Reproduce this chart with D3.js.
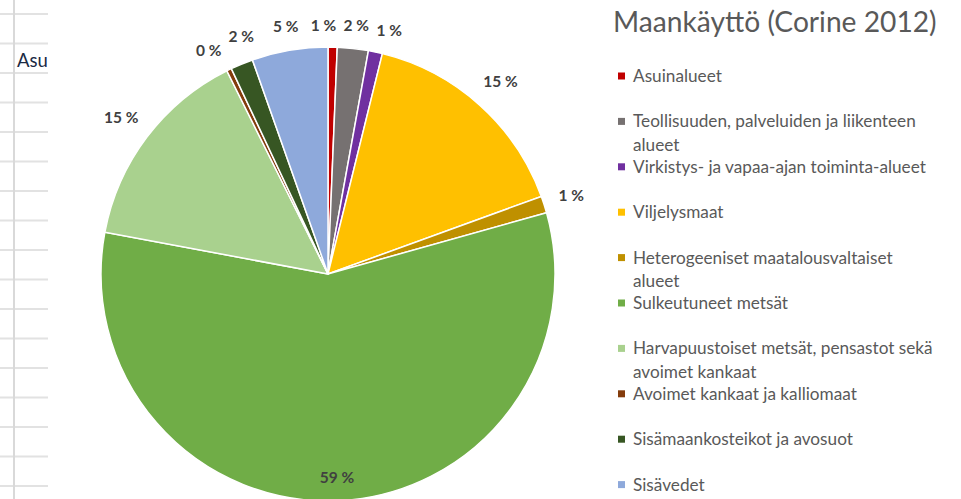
<!DOCTYPE html>
<html>
<head>
<meta charset="utf-8">
<script src="https://cdn.jsdelivr.net/npm/d3@7"></script>
<style>
  body { margin: 0; background: #fff; }
  svg { display: block; }
</style>
</head>
<body>
<script>
// land use classes, in pie order (clockwise from 12 o'clock)
const categories = [
  'Asuinalueet',
  'Teollisuuden, palveluiden ja liikenteen\nalueet',
  'Virkistys- ja vapaa-ajan toiminta-alueet',
  'Viljelysmaat',
  'Heterogeeniset maatalousvaltaiset\nalueet',
  'Sulkeutuneet metsät',
  'Harvapuustoiset metsät, pensastot sekä\navoimet kankaat',
  'Avoimet kankaat ja kalliomaat',
  'Sisämaankosteikot ja avosuot',
  'Sisävedet',
];
// share of area, %
const shares = [0.65, 2.2, 1.0, 15.6, 1.2, 57.3, 14.7, 0.35, 1.6, 5.4];
// data labels as printed on the chart
const pctLabels = ['1 %', '2 %', '1 %', '15 %', '1 %', '59 %', '15 %', '0 %', '2 %', '5 %'];
const colors = ['#C00000', '#767171', '#7030A0', '#FFC000', '#BF9000',
  '#70AD47', '#A9D18E', '#843C0C', '#375623', '#8EA9DB'];
const title = 'Maankäyttö (Corine 2012)';

const width = 961;
const height = 499;
const cx = 328;
const cy = 274;
const R = 227;

const svg = d3.select('body').append('svg')
  .attr('width', width)
  .attr('height', height)
  .style('font-family', 'Lato, "Open Sans", sans-serif');

// spreadsheet behind the chart (left strip)
svg.append('clipPath').attr('id', 'sheet')
  .append('rect').attr('x', 0).attr('y', 0).attr('width', 48).attr('height', height);
const sheet = svg.append('g').attr('clip-path', 'url(#sheet)');
sheet.selectAll('line.row')
  .data(d3.range(14, height, 29.5))
  .enter()
  .append('line')
  .classed('row', true)
  .attr('x1', 0).attr('x2', 49)
  .attr('y1', (d) => d).attr('y2', (d) => d)
  .style('stroke', '#e2e2e2')
  .style('stroke-width', 2);
sheet.append('line')
  .attr('x1', 14).attr('x2', 14).attr('y1', 0).attr('y2', height)
  .style('stroke', '#d9d9d9')
  .style('stroke-width', 2);
sheet.append('rect')
  .attr('x', 15).attr('y', 45).attr('width', 34).attr('height', 27)
  .style('fill', '#fff');
sheet.append('text')
  .attr('x', 17).attr('y', 67)
  .style('font-size', '18.5px')
  .style('fill', '#1b2a44')
  .text('Asuinalueet');

// pie
const pie = d3.pie().sort(null).value((d) => d)(shares);
const arc = d3.arc().innerRadius(0).outerRadius(R);
const g = svg.append('g').attr('transform', `translate(${cx},${cy})`);

g.selectAll('path.slice')
  .data(pie)
  .enter()
  .append('path')
  .classed('slice', true)
  .attr('d', arc)
  .style('fill', (d, i) => colors[i])
  .style('stroke', '#fff')
  .style('stroke-width', 1.5);

// data labels: outside end, nudged apart where they collide
const fs = 15.5;
const labels = g.selectAll('text.lbl')
  .data(pie)
  .enter()
  .append('text')
  .classed('lbl', true)
  .attr('text-anchor', 'middle')
  .attr('dy', '0.35em')
  .style('font-size', `${fs}px`)
  .style('font-weight', 'bold')
  .style('fill', '#404040')
  .text((d, i) => pctLabels[i]);

const boxH = 15;
const pos = [];
labels.each(function (d, i) {
  const w = this.getComputedTextLength();
  pos.push({ i, w, a: (d.startAngle + d.endAngle) / 2, inside: shares[i] > 30 });
});

function place(p) {
  const s = Math.sin(p.a);
  const c = Math.cos(p.a);
  const r = p.inside ? R - 23 : R + 14 + Math.abs(s) * p.w / 2 + Math.abs(c) * boxH / 2;
  p.x = r * s;
  p.y = -r * c;
}
function overlap(p, q) {
  return Math.abs(p.x - q.x) < (p.w + q.w) / 2 + 7 && Math.abs(p.y - q.y) < boxH + 8;
}
pos.forEach(place);
const outside = pos.filter((p) => !p.inside);
for (let k = 0; k < 400; k += 1) {
  let moved = false;
  for (let j = 0; j < outside.length - 1; j += 1) {
    const p = outside[j];
    const q = outside[j + 1];
    if (overlap(p, q)) {
      p.a -= 0.003;
      q.a += 0.003;
      place(p);
      place(q);
      moved = true;
    }
  }
  if (!moved) break;
}
labels
  .attr('x', (d, i) => pos[i].x)
  .attr('y', (d, i) => pos[i].y);

// title
svg.append('text')
  .attr('x', 613)
  .attr('y', 32)
  .style('font-size', '28.2px')
  .style('fill', '#595959')
  .text(title);

// legend
const legend = svg.append('g').attr('transform', 'translate(618,76)');
const step = 45.4;
const item = legend.selectAll('g.item')
  .data(categories)
  .enter()
  .append('g')
  .classed('item', true)
  .attr('transform', (d, i) => `translate(0,${i * step})`);
item.append('rect')
  .attr('x', 0).attr('y', -3.5)
  .attr('width', 7).attr('height', 7)
  .style('fill', (d, i) => colors[i]);
item.append('text')
  .style('font-size', '17.2px')
  .style('fill', '#595959')
  .selectAll('tspan')
  .data((d) => d.split('\n'))
  .enter()
  .append('tspan')
  .attr('x', 15)
  .attr('y', (d, j) => 6 + j * 23.5)
  .text((d) => d);
</script>
</body>
</html>
